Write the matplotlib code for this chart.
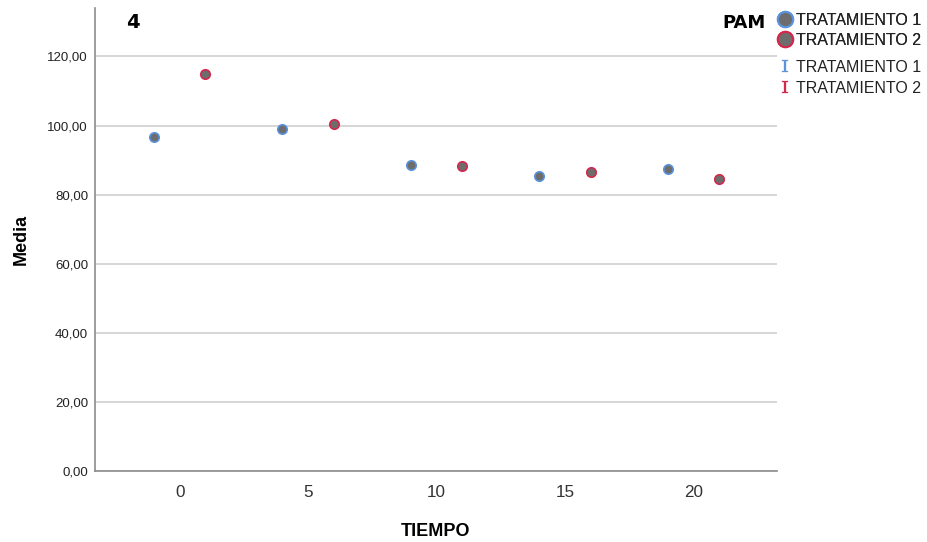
import numpy as np
import matplotlib
matplotlib.use('Agg')
import matplotlib.pyplot as plt
from matplotlib.lines import Line2D
from matplotlib.ticker import FuncFormatter

plt.rcParams['font.family'] = ['Liberation Sans', 'DejaVu Sans']

# medias por tiempo y tratamiento
tiempo_t1 = [-1, 4, 9, 14, 19]
media_t1 = [96.6, 99.0, 88.5, 85.4, 87.5]
tiempo_t2 = [1, 6, 11, 16, 21]
media_t2 = [115.0, 100.6, 88.3, 86.7, 84.6]
etiquetas = ['TRATAMIENTO 1', 'TRATAMIENTO 2']

x_ticks = [0, 5, 10, 15, 20]
y_ticks = [0, 20, 40, 60, 80, 100, 120]

azul = '#5b93dc'
rojo = '#d4284c'
gris = '#6d6d6d'

fig = plt.figure(figsize=(9.27, 5.42), dpi=100)
ax = fig.add_axes([0.1025, 0.131, 0.7355, 0.854])

ax.plot(tiempo_t1, media_t1, 'o', ms=6.8, mfc=gris, mec=azul, mew=1.2, zorder=3)
ax.plot(tiempo_t2, media_t2, 'o', ms=6.8, mfc=gris, mec=rojo, mew=1.2, zorder=3)

ax.set_xlim(-3.3, 23.25)
ax.set_ylim(0, 134)
ax.set_xticks(x_ticks)
ax.set_yticks(y_ticks)
ax.yaxis.set_major_formatter(FuncFormatter(lambda v, p: '{:.2f}'.format(v).replace('.', ',')))
ax.tick_params(axis='both', length=0)
ax.tick_params(axis='y', labelsize=9.5, pad=5, colors='#222222')
ax.tick_params(axis='x', labelsize=12.3, pad=10, colors='#333333')
ax.grid(axis='y', color='#cfcfcf', lw=1.2)
ax.set_axisbelow(True)
for s in ['top', 'right']:
    ax.spines[s].set_visible(False)
for s in ['left', 'bottom']:
    ax.spines[s].set_color('#8c8c8c')
    ax.spines[s].set_linewidth(1.2)

ax.set_xlabel('TIEMPO', fontsize=13, fontweight='bold', labelpad=17)
ax.set_ylabel('Media', fontsize=13, fontweight='bold', labelpad=13)

fig.text(133 / 927, 1 - 23 / 542, '4', fontsize=14, fontweight='bold',
         family=['DejaVu Sans'], ha='center', va='center')
fig.text(766 / 927, 1 - 23 / 542, 'PAM', fontsize=13, fontweight='bold',
         family=['DejaVu Sans'], ha='right', va='center')

h_medias = [Line2D([], [], ls='none', marker='o', ms=11, mfc=gris, mec=c, mew=1.5)
            for c in [azul, rojo]]
h_barras = [Line2D([], [], ls='none', marker='$\\mathtt{I}$', ms=9, color=c, mew=0.2)
            for c in [azul, rojo]]
leg1 = fig.legend(h_medias, etiquetas, loc='upper left', bbox_to_anchor=(778 / 927, 1 - 13 / 542),
                  frameon=False, fontsize=11.5, handlelength=0.9, handletextpad=0.25,
                  labelspacing=0.3, borderpad=0, borderaxespad=0, labelcolor='#222222')
leg2 = fig.legend(h_barras, etiquetas, loc='upper left', bbox_to_anchor=(778 / 927, 1 - 60 / 542),
                  frameon=False, fontsize=11.5, handlelength=0.9, handletextpad=0.25,
                  labelspacing=0.35, borderpad=0, borderaxespad=0, labelcolor='#222222')
fig.add_artist(leg1)

fig.savefig('out.png', dpi=100)
